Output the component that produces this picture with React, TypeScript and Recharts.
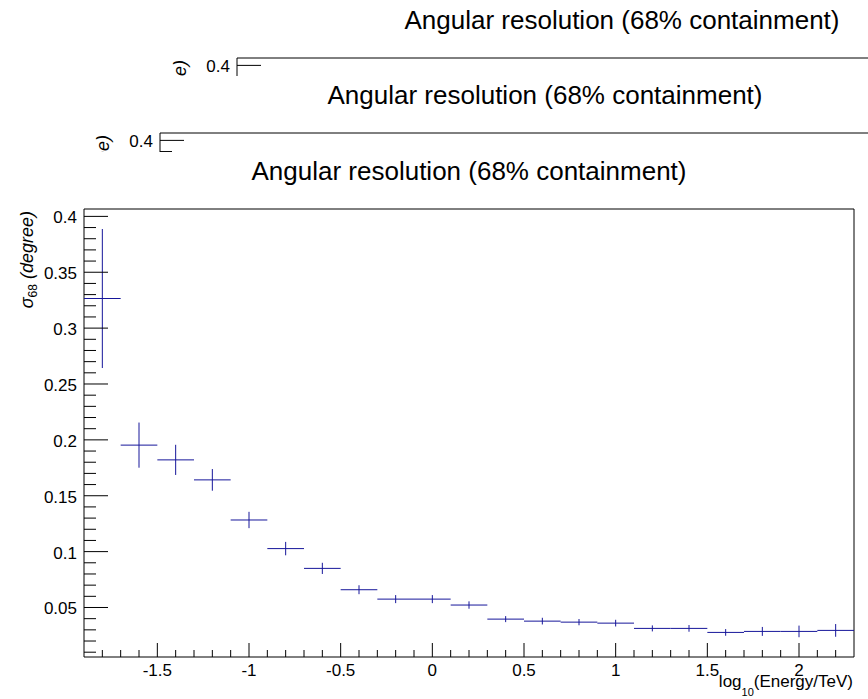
import React from "react";
import { ScatterChart, Scatter, XAxis, YAxis, ErrorBar, ReferenceArea } from "recharts";

// log10(E/TeV) bin centres, bins are 0.2 wide
const binCenters = [
  -1.8, -1.6, -1.4, -1.2, -1.0, -0.8, -0.6, -0.4, -0.2, 0.0, 0.2, 0.4, 0.6, 0.8, 1.0, 1.2, 1.4, 1.6, 1.8, 2.0, 2.2,
];
const sigma68 = [
  0.3265, 0.1953, 0.1821, 0.1642, 0.1283, 0.1027, 0.085, 0.0659, 0.0575, 0.0575, 0.0522, 0.0396, 0.0378, 0.0369,
  0.036, 0.0313, 0.0313, 0.0277, 0.0286, 0.0286, 0.0295,
];
const sigma68Err = [
  0.0622, 0.0202, 0.0135, 0.0097, 0.0073, 0.006, 0.005, 0.004, 0.0036, 0.0036, 0.0033, 0.0027, 0.003, 0.0028,
  0.003, 0.0027, 0.003, 0.003, 0.004, 0.0052, 0.0057,
];
const BIN_HALF_WIDTH = 0.1;

const xMajorTicks = [-1.5, -1, -0.5, 0, 0.5, 1, 1.5, 2];
const yMajorTicks = [0.05, 0.1, 0.15, 0.2, 0.25, 0.3, 0.35, 0.4];

const X_DOMAIN: [number, number] = [-1.9, 2.3];
const Y_DOMAIN: [number, number] = [0.0057, 0.4066];

// minor ticks every 0.1 (x) and 0.01 (y)
const xTicks = Array.from({ length: 41 }, (_, i) => Math.round(-18 + i) / 10);
const yTicks = Array.from({ length: 40 }, (_, i) => (i + 1) / 100);

const points = binCenters.map((x, i) => ({
  x,
  y: sigma68[i],
  xErr: BIN_HALF_WIDTH,
  yErr: sigma68Err[i],
}));

const FONT = "'Liberation Sans', Arial, Helvetica, sans-serif";
const MARKER = "#16169a";
const TITLE = "Angular resolution (68% containment)";

const PANEL_W = 868;
const PANEL_H = 547;
const FRAME_TOP = 57;

const isMajor = (v: number, list: number[]) => list.some((m) => Math.abs(m - v) < 1e-6);
const fmt = (v: number) => String(Number(v.toFixed(2)));

function XTick(props: any) {
  const { x, y, payload } = props;
  const v = payload.value;
  const major = isMajor(v, xMajorTicks);
  return (
    <g>
      <line x1={x} x2={x} y1={y} y2={y - (major ? 14 : 7)} stroke="#000" strokeWidth={1} />
      {major && (
        <text x={x} y={y + 19} textAnchor="middle" fontSize={17} fontFamily={FONT} fill="#000">
          {fmt(v)}
        </text>
      )}
    </g>
  );
}

function YTick(props: any) {
  const { x, y, payload } = props;
  const v = payload.value;
  const major = isMajor(v, yMajorTicks);
  return (
    <g>
      <line x1={x} x2={x + (major ? 24 : 12)} y1={y} y2={y} stroke="#000" strokeWidth={1} />
      {major && (
        <text x={x - 7} y={y + 1} dy="0.35em" textAnchor="end" fontSize={17} fontFamily={FONT} fill="#000">
          {fmt(v)}
        </text>
      )}
    </g>
  );
}

const noMarker = () => <g />;

function ResolutionPanel({ left, top }: { left: number; top: number }) {
  return (
    <div
      style={{
        position: "absolute",
        left,
        top,
        width: PANEL_W,
        height: PANEL_H,
        background: "#fff",
      }}
    >
      <div
        style={{
          position: "absolute",
          left: 84,
          width: 770,
          top: FRAME_TOP - 51,
          textAlign: "center",
          fontSize: 26,
          lineHeight: "26px",
          fontFamily: FONT,
          color: "#000",
          whiteSpace: "nowrap",
        }}
      >
        {TITLE}
      </div>
      <ScatterChart width={PANEL_W} height={PANEL_H} margin={{ top: FRAME_TOP, right: 14, bottom: 0, left: 0 }}>
        <XAxis
          type="number"
          dataKey="x"
          domain={X_DOMAIN}
          ticks={xTicks}
          interval={0}
          tickSize={0}
          tickMargin={0}
          axisLine={false}
          tickLine={false}
          tick={XTick}
          height={42}
          allowDataOverflow
        />
        <YAxis
          type="number"
          dataKey="y"
          domain={Y_DOMAIN}
          ticks={yTicks}
          interval={0}
          tickSize={0}
          tickMargin={0}
          axisLine={false}
          tickLine={false}
          tick={YTick}
          width={84}
          allowDataOverflow
        />
        <ReferenceArea
          x1={X_DOMAIN[0]}
          x2={X_DOMAIN[1]}
          y1={Y_DOMAIN[0]}
          y2={Y_DOMAIN[1]}
          fill="none"
          stroke="#000"
          strokeWidth={1}
          ifOverflow="visible"
        />
        <Scatter data={points} shape={noMarker} isAnimationActive={false}>
          <ErrorBar dataKey="xErr" direction="x" width={0} stroke={MARKER} strokeWidth={1} isAnimationActive={false} />
          <ErrorBar dataKey="yErr" direction="y" width={0} stroke={MARKER} strokeWidth={1} isAnimationActive={false} />
        </Scatter>
      </ScatterChart>
      <svg
        width={PANEL_W}
        height={PANEL_H}
        style={{ position: "absolute", left: 0, top: 0, pointerEvents: "none" }}
        fontFamily={FONT}
      >
        <text
          x={33}
          y={FRAME_TOP + 2}
          transform={`rotate(-90 33 ${FRAME_TOP + 2})`}
          textAnchor="end"
          fontSize={18}
          fill="#000"
        >
          <tspan fontStyle="italic">σ</tspan>
          <tspan fontSize={12} dy={4}>
            68
          </tspan>
          <tspan dy={-4} dx={5} fontStyle="italic">
            (degree)
          </tspan>
        </text>
        <text x={853} y={PANEL_H - 12} textAnchor="end" fontSize={17} fill="#000">
          log
          <tspan fontSize={11} dy={9}>
            10
          </tspan>
          <tspan dy={-9}>(Energy/TeV)</tspan>
        </text>
      </svg>
    </div>
  );
}

export default function App() {
  return (
    <div
      style={{
        position: "fixed",
        left: 0,
        top: 0,
        width: 868,
        height: 699,
        overflow: "hidden",
        background: "#fff",
        fontFamily: FONT,
      }}
    >
      <ResolutionPanel left={153} top={1} />
      <ResolutionPanel left={76} top={76} />
      <ResolutionPanel left={0} top={152} />
    </div>
  );
}
